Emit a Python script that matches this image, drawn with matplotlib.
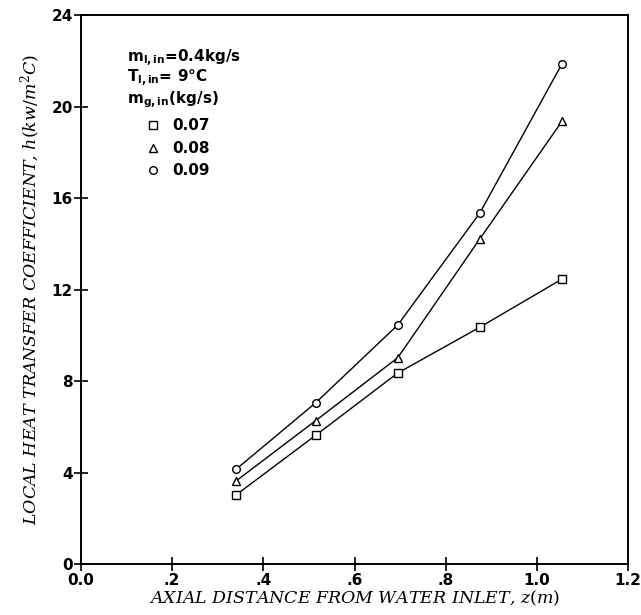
import matplotlib
matplotlib.use('Agg')
import matplotlib.pyplot as plt

# axial positions (m)
z = [0.34, 0.515, 0.695, 0.875, 1.055]

# local heat transfer coefficient for each gas flow rate
h_007 = [3.03, 5.64, 8.36, 10.36, 12.46]
h_008 = [3.64, 6.28, 9.03, 14.22, 19.35]
h_009 = [4.15, 7.06, 10.46, 15.35, 21.86]

gasRates = ['0.07', '0.08', '0.09']
markers = ['s', '^', 'o']

xTicks = [0.0, 0.2, 0.4, 0.6, 0.8, 1.0, 1.2]
xTickLabels = ['0.0', '.2', '.4', '.6', '.8', '1.0', '1.2']
yTicks = [0, 4, 8, 12, 16, 20, 24]

# serif italic for the axis label symbols, sans bold for legend subscripts
plt.rcParams['mathtext.fontset'] = 'custom'
plt.rcParams['mathtext.it'] = 'DejaVu Serif:italic'
plt.rcParams['mathtext.rm'] = 'DejaVu Serif'
plt.rcParams['mathtext.bf'] = 'DejaVu Sans:bold'

fig = plt.figure(figsize=(6.41, 6.15), dpi=100)
ax = fig.add_axes([0.1264, 0.0824, 0.8533, 0.8932])

for h, m in zip([h_007, h_008, h_009], markers):
    ax.plot(z, h, color='black', linewidth=1.0, marker=m, markersize=5.5,
            markerfacecolor='white', markeredgecolor='black', markeredgewidth=1.0)

ax.set_xlim(0, 1.2)
ax.set_ylim(0, 24)
ax.set_xticks(xTicks)
ax.set_xticklabels(xTickLabels)
ax.set_yticks(yTicks)
ax.tick_params(direction='inout', length=10, width=1.2, labelsize=11, pad=1)
for lbl in ax.get_xticklabels() + ax.get_yticklabels():
    lbl.set_fontweight('bold')
for sp in ax.spines.values():
    sp.set_linewidth(1.4)

ax.set_xlabel(r'AXIAL DISTANCE FROM WATER INLET, $z(m)$', fontsize=12.5,
              family='DejaVu Serif', style='italic', labelpad=1)
ax.set_ylabel(r'LOCAL HEAT TRANSFER COEFFICIENT, $h(kw/m^2C)$', fontsize=12.5,
              family='DejaVu Serif', style='italic', labelpad=6)

# legend block drawn as text
ax.text(0.1, 22.13, r'm$_{\mathbf{l,in}}$=0.4kg/s', fontsize=11, fontweight='bold', va='center')
ax.text(0.1, 21.25, r'T$_{\mathbf{l,in}}$= 9°C', fontsize=11, fontweight='bold', va='center')
ax.text(0.1, 20.29, r'm$_{\mathbf{g,in}}$(kg/s)', fontsize=11, fontweight='bold', va='center')
legendY = [19.19, 18.18, 17.22]
for m, lab, yy in zip(markers, gasRates, legendY):
    ax.plot([0.158], [yy], marker=m, markersize=5.5, markerfacecolor='white',
            markeredgecolor='black', markeredgewidth=1.0, linestyle='none')
    ax.text(0.2, yy, lab, fontsize=11, fontweight='bold', va='center')

fig.savefig('out.png', dpi=100)
